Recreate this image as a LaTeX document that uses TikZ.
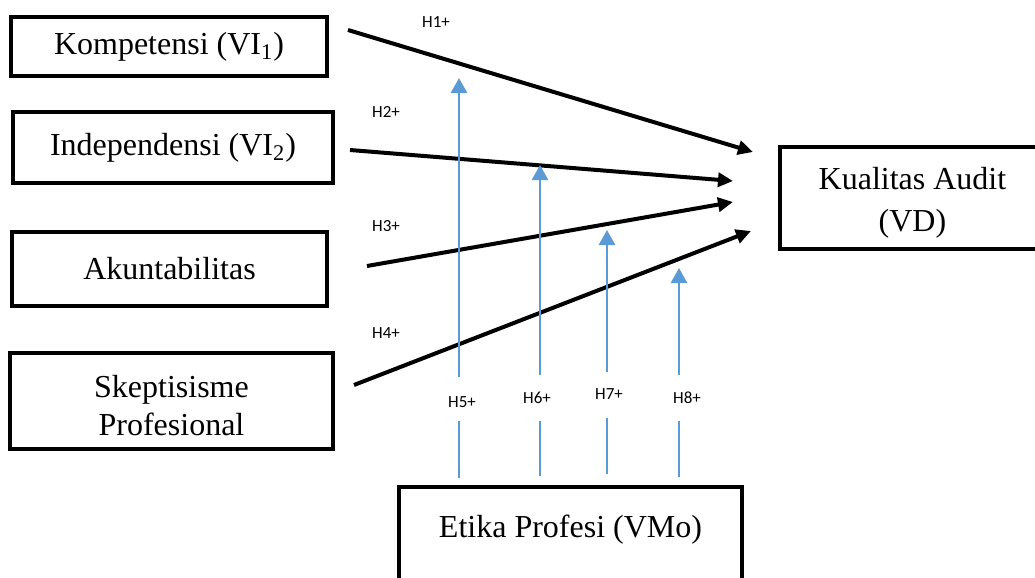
\documentclass[tikz,border=0pt]{standalone}
\usepackage{fontspec}
\setmainfont{Liberation Serif}
\newfontfamily\lblfont{Carlito}
\usetikzlibrary{arrows.meta}
\definecolor{hblue}{HTML}{5B9BD5}
\begin{document}
\begin{tikzpicture}[x=0.5pt,y=-0.5pt,
  box/.style={draw=black, line width=1.75pt, fill=white, font=\fontsize{16}{19}\selectfont, align=center, inner sep=0pt},
  hyp/.style={font=\lblfont\fontsize{8.5}{10}\selectfont, inner sep=0pt},
  mainarrow/.style={line width=2pt, -{Triangle[length=7.5pt,width=7pt]}},
  modarrow/.style={line width=1.3pt, draw=hblue, -{Triangle[length=7.5pt,width=8pt]}},
  modline/.style={line width=1.3pt, draw=hblue}]
\useasboundingbox (0,0) rectangle (1035,578);

% boxes
\node[box, minimum width=158pt, minimum height=29.5pt] (komp) at (169,46.5) {Kompetensi (VI\textsubscript{1})};
\node[box, minimum width=160pt, minimum height=35.5pt] (indep) at (173,147.5) {Independensi (VI\textsubscript{2})};
\node[box, minimum width=157.5pt, minimum height=37pt] (akun) at (169.5,269) {Akuntabilitas};
\node[box, minimum width=161.5pt, minimum height=48pt] (skep) at (171.5,401) {\rule{0pt}{16pt}Skeptisisme\\Profesional};
\node[box, minimum width=132.5pt, minimum height=51pt, font=\fontsize{16}{21}\selectfont] (kual) at (912.5,198) {\rule{0pt}{16pt}Kualitas Audit\\(VD)};
\node[box, anchor=north, minimum width=171.5pt, text height=25.3pt, text depth=40pt] (etika) at (570.5,485) {Etika Profesi (VMo)};

% hypothesis labels
\node[hyp] (h1) at (436,22) {H1+};
\node[hyp] (h2) at (386,112) {H2+};
\node[hyp] (h3) at (386,226) {H3+};
\node[hyp] (h4) at (386,333) {H4+};
\node[hyp] (h5) at (462,402) {H5+};
\node[hyp] (h6) at (537,398) {H6+};
\node[hyp] (h7) at (609,394) {H7+};
\node[hyp] (h8) at (687,398) {H8+};

% black connector ends
\coordinate (s1) at (348,30);  \coordinate (t1) at (753,152);
\coordinate (s2) at (350,150); \coordinate (t2) at (733,181);
\coordinate (s3) at (367,266); \coordinate (t3) at (733,202);
\coordinate (s4) at (354,385); \coordinate (t4) at (751,231);

\draw[mainarrow] (s1) -- (t1);
\draw[mainarrow] (s2) -- (t2);
\draw[mainarrow] (s3) -- (t3);
\draw[mainarrow] (s4) -- (t4);

% blue moderator connectors
\coordinate (b5) at (459,478); \coordinate (l5) at (459,421); \coordinate (u5) at (459,377); \coordinate (m5) at (459,78);
\coordinate (b6) at (540,476); \coordinate (l6) at (540,421); \coordinate (u6) at (540,375); \coordinate (m6) at (540,165);
\coordinate (b7) at (607,474); \coordinate (l7) at (607,418); \coordinate (u7) at (607,372); \coordinate (m7) at (607,230);
\coordinate (b8) at (679,477); \coordinate (l8) at (679,421); \coordinate (u8) at (679,375); \coordinate (m8) at (679,268);

\draw[modline] (b5) -- (l5); \draw[modarrow] (u5) -- (m5);
\draw[modline] (b6) -- (l6); \draw[modarrow] (u6) -- (m6);
\draw[modline] (b7) -- (l7); \draw[modarrow] (u7) -- (m7);
\draw[modline] (b8) -- (l8); \draw[modarrow] (u8) -- (m8);
\end{tikzpicture}
\end{document}
